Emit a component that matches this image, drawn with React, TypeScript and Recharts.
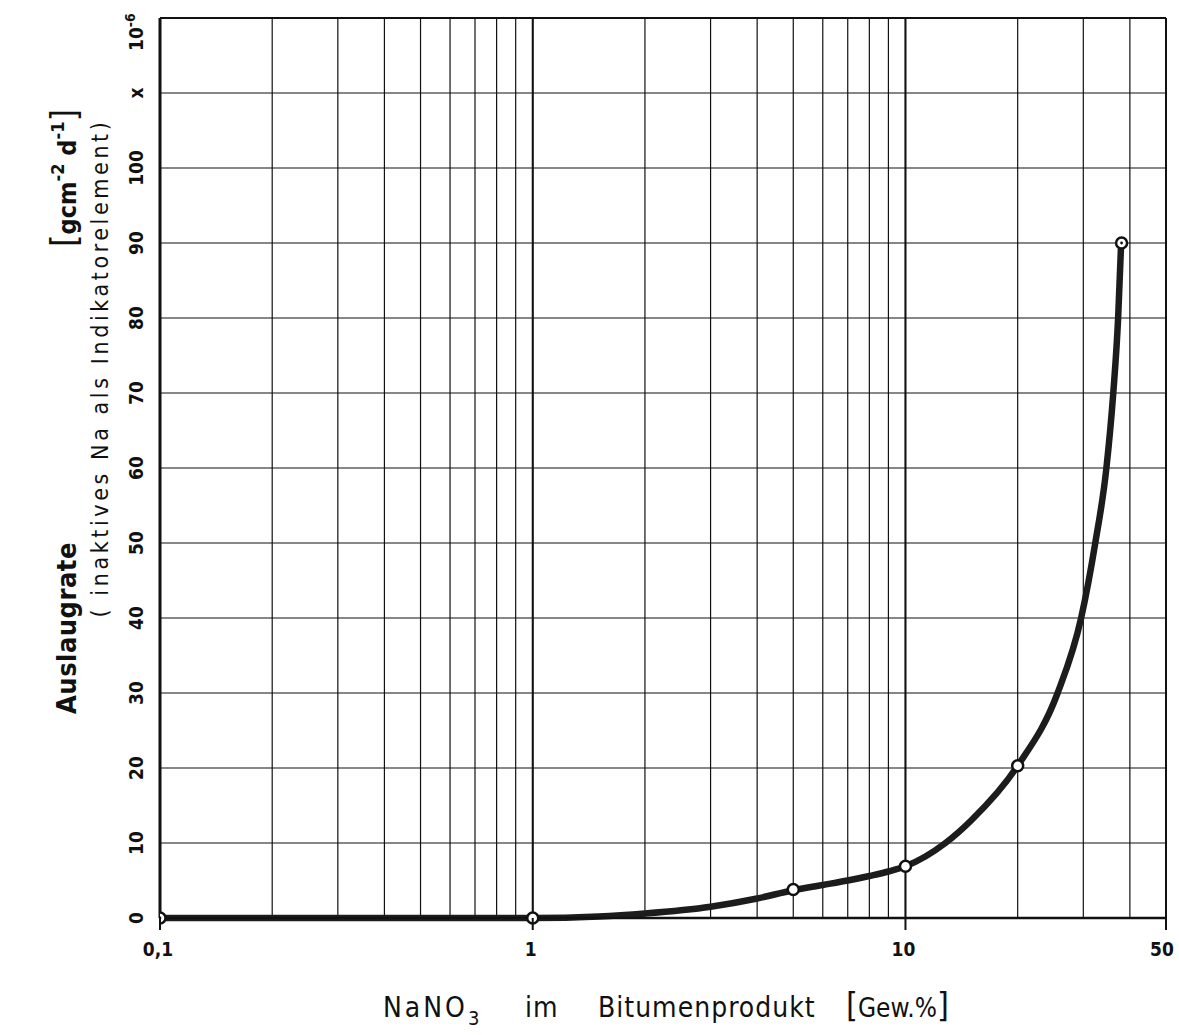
import { ComposedChart, Line, Scatter, XAxis, YAxis, CartesianGrid, ReferenceLine } from 'recharts';

const FONT = '"DejaVu Sans Condensed", "DejaVu Sans", "Liberation Sans Narrow", sans-serif';
const INK = '#111';
const COND = { fontStretch: 'condensed' } as const;

// grid / tick values
const xTicks = [0.1, 0.2, 0.3, 0.4, 0.5, 0.6, 0.7, 0.8, 0.9, 1, 2, 3, 4, 5, 6, 7, 8, 9, 10, 20, 30, 40, 50];
const xLabels: Record<string, string> = { '0.1': '0,1', '1': '1', '10': '10', '50': '50' };
const yTicks = [0, 10, 20, 30, 40, 50, 60, 70, 80, 90, 100, 110, 120];
const yLabels = ['0', '10', '20', '30', '40', '50', '60', '70', '80', '90', '100', 'x', '10'];

// measured points (circles)
const pointX = [0.1, 1, 5, 10, 20, 38];
const pointY = [0, 0, 3.8, 6.9, 20.3, 90];

// the drawn curve
const curveX = [0.1, 1, 1.5, 2, 3, 4, 5, 6, 7, 8, 9, 10, 12.8, 15, 20, 25.6, 29.6, 32.3, 34.6, 36.1, 37.2, 37.9];
const curveY = [0, 0, 0.2, 0.6, 1.5, 2.6, 3.7, 4.4, 5.0, 5.6, 6.2, 6.9, 10, 13.0, 20.3, 30, 40, 50, 60, 70, 80, 90];

const points = pointX.map((x, i) => ({ x, y: pointY[i] }));
const curve = curveX.map((x, i) => ({ x, y: curveY[i] }));

const XTick = (props: any) => {
  const { x, y, payload } = props;
  const lab = xLabels[String(payload.value)];
  if (!lab) return <g />;
  return (
    <g>
      <line x1={x} x2={x} y1={y} y2={y + 12} stroke={INK} strokeWidth={2} />
      <text x={payload.value === 50 ? x - 4 : x - 2} y={y + 38} textAnchor="middle" fontFamily={FONT}
        fontWeight="bold" fontSize={19} fill={INK} style={COND}>{lab}</text>
    </g>
  );
};

const YTick = (props: any) => {
  const { x, y, payload } = props;
  const idx = yTicks.indexOf(payload.value);
  const tx = x - 17;
  if (payload.value === 120) {
    return (
      <text transform={`translate(${tx},${y + 33}) rotate(-90)`} textAnchor="start" fontFamily={FONT}
        fontWeight="bold" fontSize={19} fill={INK} style={COND}>
        10<tspan dy={-8} fontSize={14}>-6</tspan>
      </text>
    );
  }
  return (
    <text transform={`translate(${tx},${y}) rotate(-90)`} textAnchor="middle" fontFamily={FONT}
      fontWeight="bold" fontSize={19} fill={INK} style={COND}>{yLabels[idx]}</text>
  );
};

const Marker = (props: any) => {
  const { cx, cy, payload } = props;
  const dotted = payload.x === 0.1 || payload.x >= 30;
  return (
    <g>
      <circle cx={cx} cy={cy} r={5.5} fill="#fff" stroke={INK} strokeWidth={2.5} />
      {dotted && <circle cx={cx} cy={cy} r={1.4} fill={INK} />}
    </g>
  );
};

export default function App() {
  return (
    <div style={{ position: 'absolute', left: 0, top: 0, width: 1179, height: 1035, background: '#fff' }}>
      <ComposedChart width={1179} height={1035} margin={{ top: 18, right: 13, bottom: 87, left: 100 }}>
        <CartesianGrid stroke={INK} strokeWidth={1.2} vertical horizontal />
        <XAxis dataKey="x" type="number" scale="log" domain={[0.1, 50]} ticks={xTicks} interval={0}
          allowDataOverflow height={30} tickSize={0} tickMargin={0} tick={<XTick />}
          axisLine={{ stroke: INK, strokeWidth: 2.5 }} tickLine={false} />
        <YAxis dataKey="y" type="number" domain={[0, 120]} ticks={yTicks} interval={0} width={60}
          tickSize={0} tickMargin={0} tick={<YTick />}
          axisLine={{ stroke: INK, strokeWidth: 3 }} tickLine={false} />
        <ReferenceLine x={1} stroke={INK} strokeWidth={2} />
        <ReferenceLine x={10} stroke={INK} strokeWidth={2} />
        <ReferenceLine x={50} stroke={INK} strokeWidth={2} />
        <ReferenceLine y={120} stroke={INK} strokeWidth={2} />
        <Line data={curve} dataKey="y" type="monotone" stroke="#1c1c1c" strokeWidth={6.5}
          dot={false} activeDot={false} isAnimationActive={false} />
        <Scatter data={points} dataKey="y" shape={<Marker />} isAnimationActive={false} />
      </ComposedChart>
      <svg width={1179} height={1035} style={{ position: 'absolute', left: 0, top: 0, pointerEvents: 'none' }}>
        <g fontFamily={FONT} fill={INK} style={COND}>
          <text transform="translate(76,628) rotate(-90)" textAnchor="middle"
            fontWeight="bold" fontSize={27} letterSpacing={0.5}>Auslaugrate</text>
          <text transform="translate(76,178) rotate(-90)" textAnchor="middle"
            fontSize={25} fontWeight="bold">
            <tspan fontSize={36} fontWeight="normal">[</tspan>gcm<tspan dy={-12} fontSize={18}>-2</tspan>
            <tspan dy={12}> d</tspan><tspan dy={-12} fontSize={18}>-1</tspan><tspan dy={12} fontSize={36} fontWeight="normal">]</tspan>
          </text>
          <text transform="translate(108,368) rotate(-90)" textAnchor="middle"
            fontSize={23} letterSpacing={3.6}>( inaktives Na als Indikatorelement)</text>
          <text x={383} y={1017} fontSize={28} letterSpacing={3}>NaNO</text>
          <text x={468} y={1025} fontSize={20}>3</text>
          <text x={525} y={1017} fontSize={28} letterSpacing={1}>im</text>
          <text x={598} y={1017} fontSize={28} letterSpacing={1}>Bitumenprodukt</text>
          <text x={846} y={1017} fontSize={26}>
            <tspan fontSize={34}>[</tspan>Gew.%<tspan fontSize={34}>]</tspan>
          </text>
        </g>
      </svg>
    </div>
  );
}
